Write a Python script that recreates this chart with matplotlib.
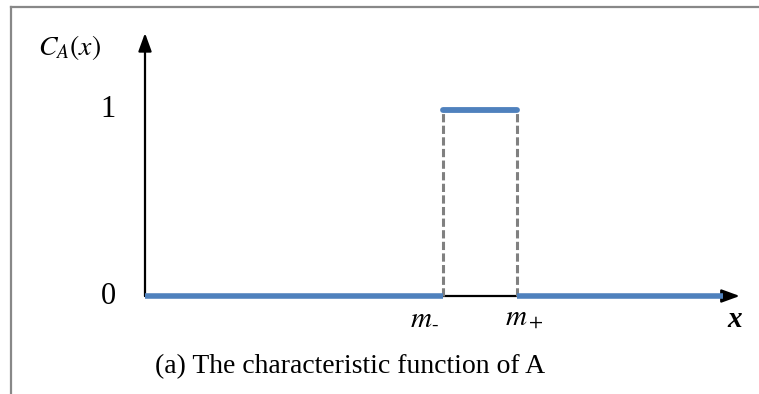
import matplotlib
matplotlib.use("Agg")
import matplotlib.pyplot as plt
from matplotlib.lines import Line2D

plt.rcParams["mathtext.fontset"] = "stix"
SERIF = ["Liberation Serif", "DejaVu Serif"]

# characteristic function of the interval [m-, m+]
x_end = 10.0
m_minus, m_plus = 5.16, 6.44
levels = [0, 1]
y_ticks = [0, 1]
y_tick_labels = ["0", "1"]
arrow_x, arrow_y = 10.29, 1.41

BLUE = "#4f81bd"
GRAY = "#808080"

W, H = 759, 394
fig = plt.figure(figsize=(W / 100, H / 100), dpi=100)
ax = fig.add_axes([0, 0, 1, 1])
# pixel layout: x=0 at 145px, 57.8 px/unit; y=0 at 296px, 186.5 px/unit
ax.set_xlim(-145 / 57.8, (W - 145) / 57.8)
ax.set_ylim((296 - H) / 186.5, 296 / 186.5)
ax.axis("off")

# outer frame (top and left edges)
fig.add_artist(Line2D([10.5 / W, 1], [1 - 6.5 / H, 1 - 6.5 / H], color="#888888", lw=1.6))
fig.add_artist(Line2D([10.5 / W, 10.5 / W], [0, 1 - 6.5 / H], color="#888888", lw=1.6))

# axes with arrows
head = "-|>,head_length=1.1,head_width=0.4"
ax.annotate("", xy=(0, arrow_y), xytext=(0, 0),
            arrowprops=dict(arrowstyle=head, color="black", lw=1.6, shrinkA=0, shrinkB=0))
ax.annotate("", xy=(arrow_x, 0), xytext=(0, 0),
            arrowprops=dict(arrowstyle=head, color="black", lw=1.6, shrinkA=0, shrinkB=0))

# dashed guides
for m in (m_minus, m_plus):
    ax.plot([m, m], [levels[0], levels[1]], color=GRAY, lw=2.2, ls=(0, (2.7, 1.1)), zorder=3)

# the function
ax.plot([0, m_minus], [levels[0], levels[0]], color=BLUE, lw=4.0, solid_capstyle="butt", zorder=4)
ax.plot([m_plus, x_end], [levels[0], levels[0]], color=BLUE, lw=4.0, solid_capstyle="butt", zorder=4)
ax.plot([m_minus, m_plus], [levels[1], levels[1]], color=BLUE, lw=4.2, solid_capstyle="round", zorder=4)

# labels
for yv, lab in zip(y_ticks, y_tick_labels):
    ax.text(-0.64, yv, lab, ha="center", va="center", fontsize=22, family=SERIF)
ax.text(-1.30, 1.33, r"$C_A(x)$", ha="center", va="center", fontsize=20)
ax.text(m_minus - 0.32, -0.15, r"$m_{\text{-}}$", ha="center", va="baseline", fontsize=21)
ax.text(m_plus + 0.12, -0.15, r"$m_+$", ha="center", va="baseline", fontsize=21)
ax.text(10.21, -0.166, "x", ha="center", va="baseline", fontsize=21, family=SERIF,
        style="italic", weight="bold")
ax.text(3.55, -0.413, "(a) The characteristic function of A", ha="center", va="baseline",
        fontsize=20, family=SERIF)

fig.savefig("out.png", dpi=100)
